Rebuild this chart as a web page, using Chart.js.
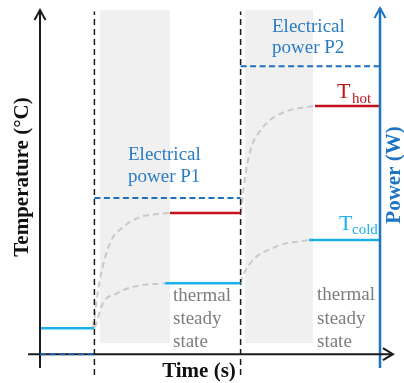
<!DOCTYPE html>
<html><head><meta charset="utf-8">
<script src="https://cdn.jsdelivr.net/npm/chart.js@4"></script>
<style>html,body{margin:0;padding:0;background:#fff;overflow:hidden}</style>
</head><body>
<canvas id="c" width="404" height="383"></canvas>
<script>
// ---- data (arbitrary units: time 0..100, temperature/power 0..100) ----
const stepTimes = [0, 16, 59, 100];            // power switched at 16 and 59
const powerLevels = [0, 45.1, 83.2];           // electrical power per interval
const coldSteadyStart = [0, 36.8, 79.1];
const coldSteady = [7.5, 20.5, 33.0];
const hotSteadyStart = [null, 38.2, 80.9];
const hotSteady = [null, 40.8, 71.7];
const transientWindows = [[17.6, 38.2], [60.3, 80.3]];
// transient (gray dashed) curves
const hotRise1X = [15.6, 17.6, 20.6, 24.4, 29.4, 34.4, 38.2];
const hotRise1Y = [7.8, 21.4, 32.1, 36.7, 39.6, 40.5, 40.8];
const coldRise1X = [16.2, 18.5, 22.6, 27.1, 32.4, 36.8];
const coldRise1Y = [7.8, 14.7, 17.6, 19.4, 20.2, 20.5];
const hotRise2X = [59.1, 60.0, 61.2, 62.6, 64.7, 67.6, 73.5, 80.9];
const hotRise2Y = [40.8, 48.8, 56.1, 61.0, 64.5, 67.6, 70.5, 71.7];
const coldRise2X = [59.1, 59.4, 60.9, 62.6, 64.7, 67.6, 71.5, 75.0, 78.8];
const coldRise2Y = [20.5, 22.0, 24.9, 27.2, 28.9, 30.3, 31.8, 32.4, 32.9];

const C = {
  black: '#1a1a1a', axisBlue: '#1b74c4', powerBlue: '#1f6fc0', textBlue: '#2a7cc2',
  cyan: '#1cb1ea', red: '#c3121c', gray: '#c9c9c9', grayText: '#7d7d7d', shade: '#f0f0f0'
};

const zip = (xs, ys) => xs.map((x, i) => ({x, y: ys[i]}));
const seg = (x0, x1, y) => [{x: x0, y}, {x: x1, y}];

const datasets = [];
function add(data, color, width, dash) {
  datasets.push({data, borderColor: color, borderWidth: width, borderDash: dash || [],
    pointRadius: 0, fill: false, tension: 0, borderCapStyle: 'butt'});
}
// power steps (topmost)
powerLevels.forEach((p, i) => add(seg(stepTimes[i], stepTimes[i + 1], p), i === 0 ? '#1f62b0' : C.powerBlue, 2, [6, 3.5]));
// axes
add([{x: 0, y: -4}, {x: 0, y: 99.4}], C.black, 2);
add([{x: -3.5, y: 0}, {x: 103.8, y: 0}], C.black, 2);
add([{x: 100, y: -4}, {x: 100, y: 100}], C.axisBlue, 2.5);
// cold steady states
coldSteady.forEach((v, i) => add(seg(coldSteadyStart[i], stepTimes[i + 1], v), C.cyan, 2.5));
// hot steady states
hotSteady.forEach((v, i) => { if (v !== null) add(seg(hotSteadyStart[i], stepTimes[i + 1], v), C.red, 2.5); });
// step markers
[stepTimes[1], stepTimes[2]].forEach(t => add([{x: t, y: -6}, {x: t, y: 99}], C.black, 1.5, [6, 4]));
// transient curves
[[hotRise1X, hotRise1Y], [coldRise1X, coldRise1Y], [hotRise2X, hotRise2Y], [coldRise2X, coldRise2Y]]
  .forEach(([xs, ys]) => {
    add(zip(xs, ys), C.gray, 2, [6, 4]);
    datasets[datasets.length - 1].cubicInterpolationMode = 'monotone';
  });

const deco = {
  id: 'deco',
  beforeDatasetsDraw(chart) {
    const {ctx, scales: {x, y}} = chart;
    ctx.save();
    ctx.fillStyle = C.shade;
    transientWindows.forEach(([a, b]) => {
      const x0 = x.getPixelForValue(a), x1 = x.getPixelForValue(b);
      const yt = y.getPixelForValue(99.4), yb = y.getPixelForValue(3.2);
      ctx.fillRect(x0, yt, x1 - x0, yb - yt);
    });
    ctx.restore();
  },
  afterDatasetsDraw(chart) {
    const {ctx, scales: {x, y}} = chart;
    ctx.save();
    ctx.lineWidth = 2; ctx.lineJoin = 'miter'; ctx.lineCap = 'butt';
    // arrowheads
    const arrowUp = (px, py, col) => {
      ctx.strokeStyle = col; ctx.beginPath();
      ctx.moveTo(px - 5.5, py + 10); ctx.lineTo(px, py); ctx.lineTo(px + 5.5, py + 10); ctx.stroke();
    };
    arrowUp(x.getPixelForValue(0), y.getPixelForValue(99.4), C.black);
    arrowUp(x.getPixelForValue(100), y.getPixelForValue(100), C.axisBlue);
    const tx = x.getPixelForValue(103.8), ty = y.getPixelForValue(0);
    ctx.strokeStyle = C.black; ctx.beginPath();
    ctx.moveTo(tx - 10, ty - 6); ctx.lineTo(tx, ty); ctx.lineTo(tx - 10, ty + 6); ctx.stroke();

    // texts
    ctx.textBaseline = 'alphabetic';
    ctx.textAlign = 'left';
    ctx.fillStyle = C.textBlue;
    ctx.font = '19px "Liberation Serif"';
    ctx.fillText('Electrical', 128, 160);
    ctx.fillText('power P1', 128, 182);
    ctx.fillText('Electrical', 272, 32);
    ctx.fillText('power P2', 272, 53);

    ctx.fillStyle = C.grayText;
    ['thermal', 'steady', 'state'].forEach((s, i) => {
      ctx.fillText(s, 173, 301 + i * 23);
      ctx.fillText(s, 317, 300 + i * 23.5);
    });

    ctx.fillStyle = C.red;
    ctx.font = '22px "Liberation Serif"';
    ctx.fillText('T', 337, 98);
    ctx.font = '15px "Liberation Serif"';
    ctx.fillText('hot', 352, 103);
    ctx.fillStyle = C.cyan;
    ctx.font = '22px "Liberation Serif"';
    ctx.fillText('T', 339, 230);
    ctx.font = '15px "Liberation Serif"';
    ctx.fillText('cold', 352, 234);

    ctx.font = 'bold 21px "Liberation Serif"';
    ctx.fillStyle = '#111';
    ctx.textAlign = 'center';
    ctx.fillText('Time (s)', 199, 377);
    ctx.save();
    ctx.translate(28, 177); ctx.rotate(-Math.PI / 2);
    ctx.fillText('Temperature (°C)', 0, 0);
    ctx.restore();
    ctx.save();
    ctx.fillStyle = C.axisBlue;
    ctx.translate(400, 175); ctx.rotate(-Math.PI / 2);
    ctx.fillText('Power (W)', 0, 0);
    ctx.restore();
    ctx.restore();
  }
};

new Chart(document.getElementById('c'), {
  type: 'line',
  data: {datasets},
  options: {
    responsive: false, animation: false, devicePixelRatio: 1,
    layout: {padding: {left: 26.4, right: 7, top: 8, bottom: 8}},
    plugins: {legend: {display: false}, tooltip: {enabled: false}},
    scales: {
      x: {type: 'linear', min: -4, max: 105, display: false},
      y: {type: 'linear', min: -6, max: 100, display: false}
    }
  },
  plugins: [deco]
});
</script>
</body></html>
